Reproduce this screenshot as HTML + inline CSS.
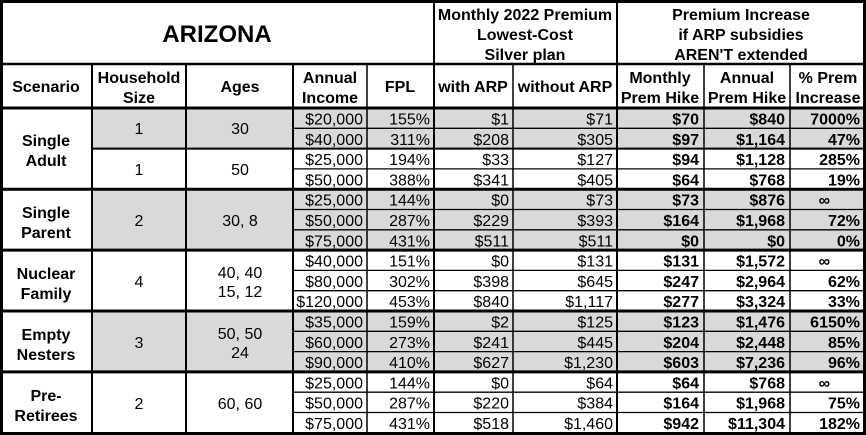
<!DOCTYPE html>
<html><head><meta charset="utf-8"><style>
html,body{margin:0;padding:0;background:#fff;}
svg{display:block;}
text{font-family:"Liberation Sans",Arial,sans-serif;font-size:16px;fill:#000;}
.b{font-weight:bold;}
.r{text-anchor:end;}
.c{text-anchor:middle;}
</style></head><body>
<svg width="866" height="435" viewBox="0 0 866 435" xmlns="http://www.w3.org/2000/svg">
<rect x="0" y="0" width="866" height="435" fill="#fff"/>
<!-- gray fills -->
<g fill="#d9d9d9">
<rect x="92" y="108" width="774" height="40.6"/>
<rect x="92" y="189.2" width="774" height="60.9"/>
<rect x="92" y="311" width="774" height="60.9"/>
</g>
<g stroke="#000" fill="none">
<!-- thin horizontal row lines (income onward) -->
<g stroke-width="1.3">
<line x1="293" y1="128.3" x2="866" y2="128.3"/>
<line x1="293" y1="168.9" x2="866" y2="168.9"/>
<line x1="293" y1="209.5" x2="866" y2="209.5"/>
<line x1="293" y1="229.8" x2="866" y2="229.8"/>
<line x1="293" y1="270.4" x2="866" y2="270.4"/>
<line x1="293" y1="290.7" x2="866" y2="290.7"/>
<line x1="293" y1="331.3" x2="866" y2="331.3"/>
<line x1="293" y1="351.6" x2="866" y2="351.6"/>
<line x1="293" y1="392.2" x2="866" y2="392.2"/>
<line x1="293" y1="412.5" x2="866" y2="412.5"/>
</g>
<line x1="92" y1="148.6" x2="866" y2="148.6" stroke-width="2"/>
<!-- group lines -->
<g stroke-width="3">
<line x1="0" y1="108" x2="866" y2="108"/>
<line x1="0" y1="189.2" x2="866" y2="189.2"/>
<line x1="0" y1="250.1" x2="866" y2="250.1"/>
<line x1="0" y1="311" x2="866" y2="311"/>
<line x1="0" y1="371.9" x2="866" y2="371.9"/>
</g>
<line x1="0" y1="64" x2="866" y2="64" stroke-width="2.5"/>
<!-- vertical lines -->
<g stroke-width="2">
<line x1="434" y1="0" x2="434" y2="435"/>
<line x1="617" y1="0" x2="617" y2="435"/>
<line x1="92" y1="64" x2="92" y2="435"/>
<line x1="186" y1="64" x2="186" y2="435"/>
<line x1="293" y1="64" x2="293" y2="435"/>
</g>
<g stroke-width="1.5">
<line x1="367" y1="64" x2="367" y2="435"/>
<line x1="513" y1="64" x2="513" y2="435"/>
<line x1="704" y1="64" x2="704" y2="435"/>
<line x1="790" y1="64" x2="790" y2="435"/>
</g>
<rect x="1.5" y="1.5" width="863" height="432" stroke-width="3"/>
</g>

<!-- header -->
<text x="217" y="42" class="b c" style="font-size:24px">ARIZONA</text>
<text x="525" y="20" class="b c">Monthly 2022 Premium</text>
<text x="525" y="40" class="b c">Lowest-Cost</text>
<text x="525" y="60" class="b c">Silver plan</text>
<text x="741" y="20" class="b c">Premium Increase</text>
<text x="741" y="40" class="b c">if ARP subsidies</text>
<text x="741" y="60" class="b c">AREN'T extended</text>

<text x="46" y="92" class="b c">Scenario</text>
<text x="139" y="83" class="b c">Household</text>
<text x="139" y="103" class="b c">Size</text>
<text x="240" y="92" class="b c">Ages</text>
<text x="330" y="83" class="b c">Annual</text>
<text x="330" y="103" class="b c">Income</text>
<text x="400" y="92" class="b c">FPL</text>
<text x="473" y="92" class="b c">with ARP</text>
<text x="565" y="92" class="b c">without ARP</text>
<text x="660" y="83" class="b c">Monthly</text>
<text x="660" y="103" class="b c">Prem Hike</text>
<text x="747" y="83" class="b c">Annual</text>
<text x="747" y="103" class="b c">Prem Hike</text>
<text x="828" y="83" class="b c">% Prem</text>
<text x="828" y="103" class="b c">Increase</text>

<!-- scenario labels -->
<text x="46" y="146" class="b c">Single</text><text x="46" y="166" class="b c">Adult</text>
<text x="46" y="218" class="b c">Single</text><text x="46" y="238" class="b c">Parent</text>
<text x="46" y="279" class="b c">Nuclear</text><text x="46" y="299" class="b c">Family</text>
<text x="46" y="340" class="b c">Empty</text><text x="46" y="360" class="b c">Nesters</text>
<text x="46" y="401" class="b c">Pre-</text><text x="46" y="421" class="b c">Retirees</text>

<text x="139" y="134" class="c">1</text><text x="240" y="134" class="c">30</text>
<text x="139" y="175" class="c">1</text><text x="240" y="175" class="c">50</text>
<text x="139" y="226" class="c">2</text><text x="240" y="226" class="c">30, 8</text>
<text x="139" y="287" class="c">4</text><text x="240" y="278" class="c">40, 40</text><text x="240" y="297" class="c">15, 12</text>
<text x="139" y="348" class="c">3</text><text x="240" y="339" class="c">50, 50</text><text x="240" y="358" class="c">24</text>
<text x="139" y="409" class="c">2</text><text x="240" y="409" class="c">60, 60</text>

<!-- data -->
<g class="r">
<text x="363" y="124.5" class="r">$20,000</text><text x="430" y="124.5" class="r">155%</text><text x="509" y="124.5" class="r">$1</text><text x="613" y="124.5" class="r">$71</text><text x="699" y="124.5" class="b r">$70</text><text x="785" y="124.5" class="b r">$840</text><text x="860" y="124.5" class="b r">7000%</text>
<text x="363" y="144.8" class="r">$40,000</text><text x="430" y="144.8" class="r">311%</text><text x="509" y="144.8" class="r">$208</text><text x="613" y="144.8" class="r">$305</text><text x="699" y="144.8" class="b r">$97</text><text x="785" y="144.8" class="b r">$1,164</text><text x="860" y="144.8" class="b r">47%</text>
<text x="363" y="165.1" class="r">$25,000</text><text x="430" y="165.1" class="r">194%</text><text x="509" y="165.1" class="r">$33</text><text x="613" y="165.1" class="r">$127</text><text x="699" y="165.1" class="b r">$94</text><text x="785" y="165.1" class="b r">$1,128</text><text x="860" y="165.1" class="b r">285%</text>
<text x="363" y="185.4" class="r">$50,000</text><text x="430" y="185.4" class="r">388%</text><text x="509" y="185.4" class="r">$341</text><text x="613" y="185.4" class="r">$405</text><text x="699" y="185.4" class="b r">$64</text><text x="785" y="185.4" class="b r">$768</text><text x="860" y="185.4" class="b r">19%</text>
<text x="363" y="205.7" class="r">$25,000</text><text x="430" y="205.7" class="r">144%</text><text x="509" y="205.7" class="r">$0</text><text x="613" y="205.7" class="r">$73</text><text x="699" y="205.7" class="b r">$73</text><text x="785" y="205.7" class="b r">$876</text><text x="830" y="205.7" class="b r">∞</text>
<text x="363" y="226" class="r">$50,000</text><text x="430" y="226" class="r">287%</text><text x="509" y="226" class="r">$229</text><text x="613" y="226" class="r">$393</text><text x="699" y="226" class="b r">$164</text><text x="785" y="226" class="b r">$1,968</text><text x="860" y="226" class="b r">72%</text>
<text x="363" y="246.3" class="r">$75,000</text><text x="430" y="246.3" class="r">431%</text><text x="509" y="246.3" class="r">$511</text><text x="613" y="246.3" class="r">$511</text><text x="699" y="246.3" class="b r">$0</text><text x="785" y="246.3" class="b r">$0</text><text x="860" y="246.3" class="b r">0%</text>
<text x="363" y="266.6" class="r">$40,000</text><text x="430" y="266.6" class="r">151%</text><text x="509" y="266.6" class="r">$0</text><text x="613" y="266.6" class="r">$131</text><text x="699" y="266.6" class="b r">$131</text><text x="785" y="266.6" class="b r">$1,572</text><text x="830" y="266.6" class="b r">∞</text>
<text x="363" y="286.9" class="r">$80,000</text><text x="430" y="286.9" class="r">302%</text><text x="509" y="286.9" class="r">$398</text><text x="613" y="286.9" class="r">$645</text><text x="699" y="286.9" class="b r">$247</text><text x="785" y="286.9" class="b r">$2,964</text><text x="860" y="286.9" class="b r">62%</text>
<text x="363" y="307.2" class="r">$120,000</text><text x="430" y="307.2" class="r">453%</text><text x="509" y="307.2" class="r">$840</text><text x="613" y="307.2" class="r">$1,117</text><text x="699" y="307.2" class="b r">$277</text><text x="785" y="307.2" class="b r">$3,324</text><text x="860" y="307.2" class="b r">33%</text>
<text x="363" y="327.5" class="r">$35,000</text><text x="430" y="327.5" class="r">159%</text><text x="509" y="327.5" class="r">$2</text><text x="613" y="327.5" class="r">$125</text><text x="699" y="327.5" class="b r">$123</text><text x="785" y="327.5" class="b r">$1,476</text><text x="860" y="327.5" class="b r">6150%</text>
<text x="363" y="347.8" class="r">$60,000</text><text x="430" y="347.8" class="r">273%</text><text x="509" y="347.8" class="r">$241</text><text x="613" y="347.8" class="r">$445</text><text x="699" y="347.8" class="b r">$204</text><text x="785" y="347.8" class="b r">$2,448</text><text x="860" y="347.8" class="b r">85%</text>
<text x="363" y="368.1" class="r">$90,000</text><text x="430" y="368.1" class="r">410%</text><text x="509" y="368.1" class="r">$627</text><text x="613" y="368.1" class="r">$1,230</text><text x="699" y="368.1" class="b r">$603</text><text x="785" y="368.1" class="b r">$7,236</text><text x="860" y="368.1" class="b r">96%</text>
<text x="363" y="388.4" class="r">$25,000</text><text x="430" y="388.4" class="r">144%</text><text x="509" y="388.4" class="r">$0</text><text x="613" y="388.4" class="r">$64</text><text x="699" y="388.4" class="b r">$64</text><text x="785" y="388.4" class="b r">$768</text><text x="830" y="388.4" class="b r">∞</text>
<text x="363" y="408.7" class="r">$50,000</text><text x="430" y="408.7" class="r">287%</text><text x="509" y="408.7" class="r">$220</text><text x="613" y="408.7" class="r">$384</text><text x="699" y="408.7" class="b r">$164</text><text x="785" y="408.7" class="b r">$1,968</text><text x="860" y="408.7" class="b r">75%</text>
<text x="363" y="429" class="r">$75,000</text><text x="430" y="429" class="r">431%</text><text x="509" y="429" class="r">$518</text><text x="613" y="429" class="r">$1,460</text><text x="699" y="429" class="b r">$942</text><text x="785" y="429" class="b r">$11,304</text><text x="860" y="429" class="b r">182%</text>
</g>
</svg>
</body></html>
